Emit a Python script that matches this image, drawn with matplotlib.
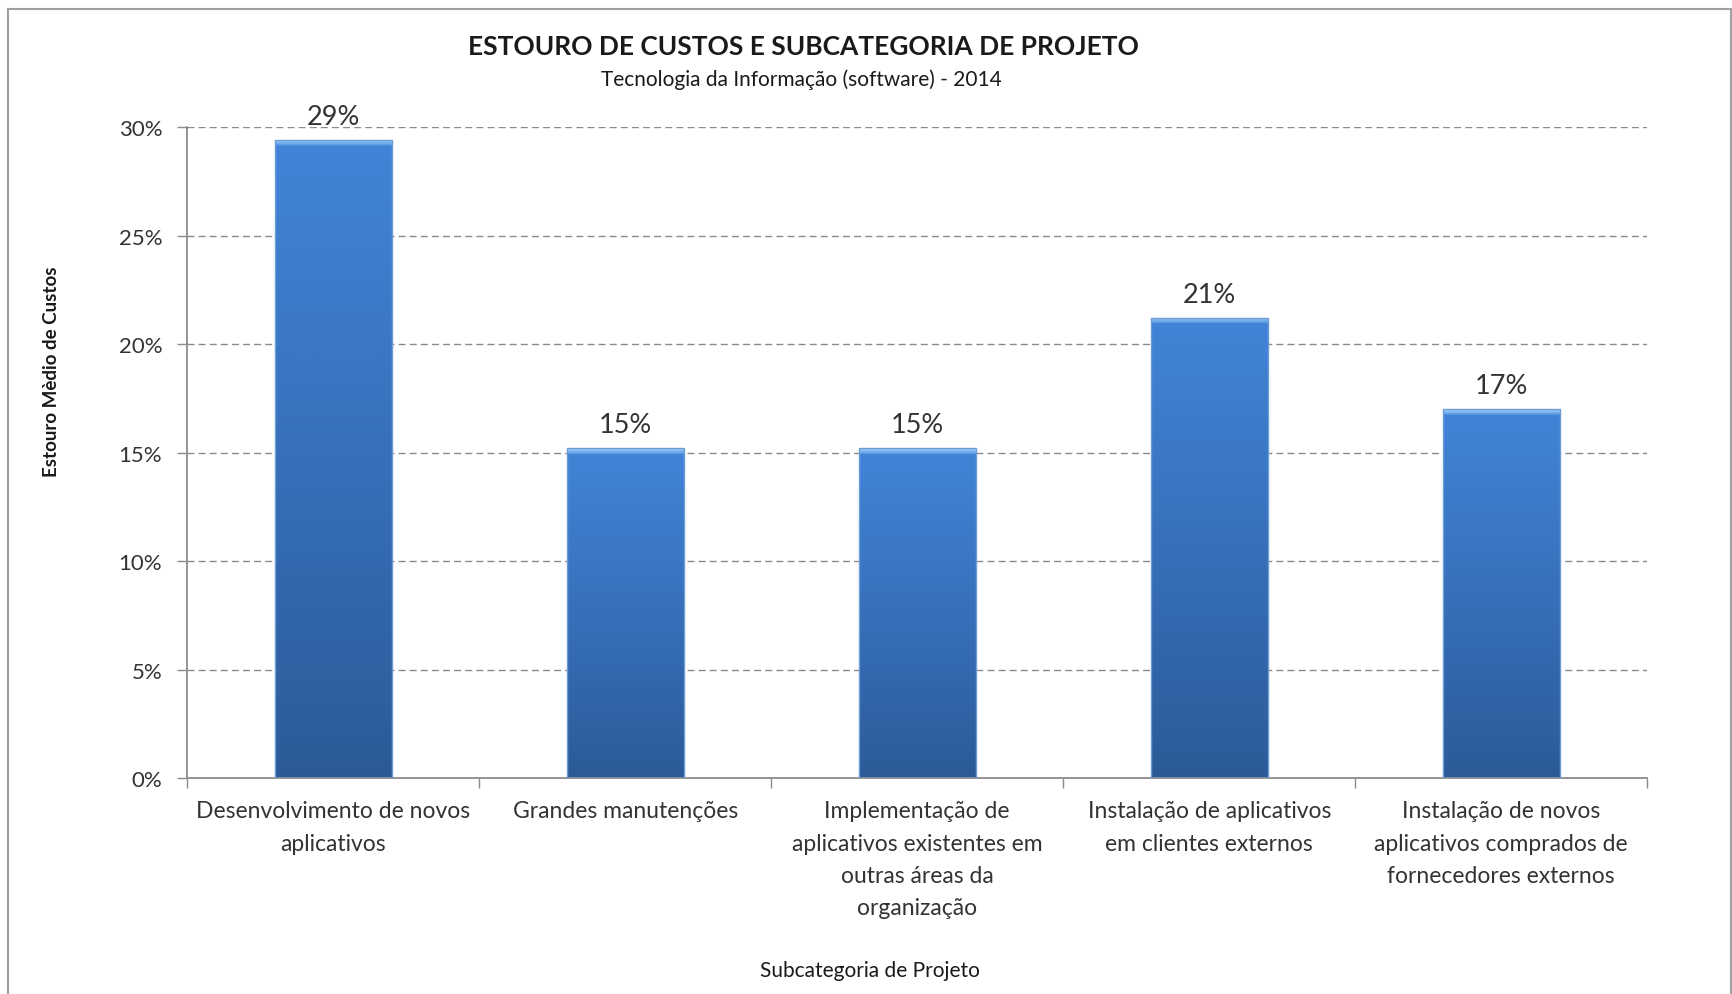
import numpy as np
import matplotlib
matplotlib.use("Agg")
import matplotlib.pyplot as plt
import matplotlib.ticker as mticker
from matplotlib.colors import LinearSegmentedColormap
from matplotlib.patches import Rectangle

plt.rcParams['font.family'] = ['Lato', 'DejaVu Sans']

categorias = [
    "Desenvolvimento de novos\naplicativos",
    "Grandes manutenções",
    "Implementação de\naplicativos existentes em\noutras áreas da\norganização",
    "Instalação de aplicativos\nem clientes externos",
    "Instalação de novos\naplicativos comprados de\nfornecedores externos",
]
estouro = [0.294, 0.152, 0.152, 0.212, 0.170]
y_ticks = [0.0, 0.05, 0.10, 0.15, 0.20, 0.25, 0.30]

titulo = "ESTOURO DE CUSTOS E SUBCATEGORIA DE PROJETO"
subtitulo = "Tecnologia da Informação (software) - 2014"
rotulo_y = "Estouro Mèdio de Custos"
rotulo_x = "Subcategoria de Projeto"

CINZA = '#8c8c8c'
TEXTO = '#333333'

fig = plt.figure(figsize=(17.33, 9.95), dpi=100)
ax = fig.add_axes([0.108, 0.217, 0.8425, 0.6543])

x = np.arange(len(categorias))
bars = ax.bar(x, estouro, width=0.4, color='none', edgecolor='#6d9bd4',
              linewidth=1, zorder=3)

# preenchimento em degradê (claro em cima, escuro embaixo) + faixa de brilho no topo
grad = LinearSegmentedColormap.from_list('barra', ['#2c5a98', '#3770ba', '#4185d8'])
brilho = LinearSegmentedColormap.from_list('brilho', ['#5d9ee6', '#a4d2f6'])
alt_px = ax.get_position().height * fig.get_figheight() * fig.dpi
faixa = y_ticks[-1] * 5 / alt_px

for b in bars:
    h = b.get_height()
    n = 400
    t = np.linspace(0, 1, n)
    img = grad(t)
    topo = t > 1 - faixa / h
    if topo.any():
        img[topo] = brilho(np.linspace(0, 1, topo.sum()))
    img = img.reshape(n, 1, 4)
    im = ax.imshow(img, origin='lower', aspect='auto', zorder=2,
                   extent=(b.get_x(), b.get_x() + b.get_width(), 0, h))
    im.set_clip_path(b)

    ax.annotate(f"{h:.0%}", (b.get_x() + b.get_width() / 2, h),
                xytext=(0, 8), textcoords='offset points',
                ha='center', va='bottom', fontsize=19.5, color=TEXTO)

ax.set_xlim(-0.5, len(categorias) - 0.5)
ax.set_ylim(y_ticks[0], y_ticks[-1])

# eixo y
ax.set_yticks(y_ticks)
ax.yaxis.set_major_formatter(mticker.PercentFormatter(xmax=1, decimals=0))
ax.tick_params(axis='y', length=7, width=1, color=CINZA, pad=11,
               labelsize=16, labelcolor=TEXTO)
ax.yaxis.grid(True, linestyle=(0, (5, 3)), color='#8a8a8a', linewidth=1)
ax.set_axisbelow(True)

# eixo x: marcas nas divisões, rótulos no centro
ax.set_xticks(np.arange(-0.5, len(categorias), 1.0))
ax.set_xticklabels([])
ax.set_xticks(x, minor=True)
ax.set_xticklabels(categorias, minor=True, fontsize=16.5, color=TEXTO,
                   linespacing=1.66, va='top')
ax.tick_params(axis='x', which='major', length=7, width=1, color=CINZA)
ax.tick_params(axis='x', which='minor', length=0, pad=16)

for s in ('top', 'right'):
    ax.spines[s].set_visible(False)
for s in ('left', 'bottom'):
    ax.spines[s].set_color(CINZA)
    ax.spines[s].set_linewidth(1.3)

# textos
fig.text(0.4635, 0.953, titulo, ha='center', va='center', fontsize=19,
         fontweight='bold', color='#1a1a1a')
fig.text(0.4625, 0.920, subtitulo, ha='center', va='center', fontsize=15,
         color='#1a1a1a')
fig.text(0.0295, 0.626, rotulo_y, rotation=90, ha='center', va='center',
         fontsize=13.5, fontweight='bold', color='#1a1a1a')
fig.text(0.502, 0.024, rotulo_x, ha='center', va='center', fontsize=15,
         color='#1a1a1a')

# moldura do gráfico
fig.patches.append(Rectangle((8 / 1733, -0.01), 1723 / 1733, 1.005 - 5 / 995,
                             transform=fig.transFigure, fill=False,
                             edgecolor='#a0a0a0', linewidth=1.5))

fig.savefig("out.png", dpi=100)
